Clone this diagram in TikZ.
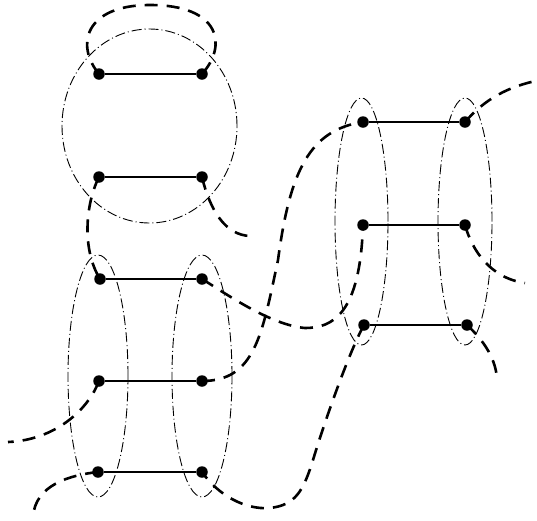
\documentclass[tikz,border=0pt]{standalone}
\pgfdeclarelayer{bg}
\pgfsetlayers{bg,main}
\begin{document}
\begin{tikzpicture}[x=1pt,y=-1pt,
  dotnode/.style={circle,fill=black,inner sep=0pt,minimum size=11.5pt},
  link/.style={line width=2.2pt},
  strand/.style={line width=2.6pt,dash pattern=on 13pt off 9pt},
  ring/.style={line width=0.9pt,dash pattern=on 10pt off 3pt on 1pt off 3pt}]
\useasboundingbox (0,0) rectangle (537,520);
% dots
\node[dotnode] (a1) at (99,74) {};
\node[dotnode] (a2) at (202,74) {};
\node[dotnode] (a3) at (99,177) {};
\node[dotnode] (a4) at (202,177) {};
\node[dotnode] (b1) at (100,279) {};
\node[dotnode] (b2) at (202,279) {};
\node[dotnode] (b3) at (99,381) {};
\node[dotnode] (b4) at (202,381) {};
\node[dotnode] (b5) at (98,472) {};
\node[dotnode] (b6) at (202,472) {};
\node[dotnode] (c1) at (363,122) {};
\node[dotnode] (c2) at (465,122) {};
\node[dotnode] (c3) at (363,225) {};
\node[dotnode] (c4) at (465,225) {};
\node[dotnode] (c5) at (364,325) {};
\node[dotnode] (c6) at (467,325) {};
% free ends
\coordinate (e1) at (250,236);
\coordinate (e2) at (540,80);
\coordinate (e3) at (525,283);
\coordinate (e4) at (497,378);
\coordinate (e5) at (8,442);
\coordinate (e6) at (33,517);
% rungs
\draw[link] (a1) -- (a2);
\draw[link] (a3) -- (a4);
\draw[link] (b1) -- (b2);
\draw[link] (b3) -- (b4);
\draw[link] (b5) -- (b6);
\draw[link] (c1) -- (c2);
\draw[link] (c3) -- (c4);
\draw[link] (c5) -- (c6);
\begin{pgfonlayer}{bg}
% rings
\draw[ring] (149.5,126) ellipse [x radius=87.5pt, y radius=97pt];
\draw[ring] (98,376) ellipse [x radius=30pt, y radius=121pt];
\draw[ring] (202,376) ellipse [x radius=30pt, y radius=121pt];
\draw[ring] (361.5,221.5) ellipse [x radius=26.5pt, y radius=123.5pt];
\draw[ring] (465,221.5) ellipse [x radius=27pt, y radius=123.5pt];
% strands
\draw[strand] (a1.center) .. controls (75,45) and (85,5) .. (150,5)
  .. controls (220,5) and (228,45) .. (a2.center);
\draw[strand] (a3.center) .. controls (85,205) and (82,250) .. (b1.center);
\draw[strand] (a4.center) .. controls (210,210) and (225,235) .. (e1);
\draw[strand] (b2.center) .. controls (225,293) and (270,325) .. (305,328)
  .. controls (332,328) and (360,315) .. (c3.center);
\draw[strand] (b4.center) .. controls (255,381) and (262,335) .. (278,260)
  .. controls (290,170) and (310,130) .. (c1.center);
\draw[strand] (c2.center) .. controls (480,105) and (500,88) .. (e2);
\draw[strand] (c4.center) .. controls (472,250) and (490,278) .. (e3);
\draw[strand] (c6.center) .. controls (480,337) and (495,355) .. (e4);
\draw[strand] (c5.center) .. controls (350,350) and (325,420) .. (313,460)
  .. controls (303,492) and (295,505) .. (270,508)
  .. controls (245,510) and (218,495) .. (b6.center);
\draw[strand] (b3.center) .. controls (88,410) and (55,440) .. (e5);
\draw[strand] (b5.center) .. controls (70,475) and (35,485) .. (e6);
\end{pgfonlayer}
\end{tikzpicture}
\end{document}
